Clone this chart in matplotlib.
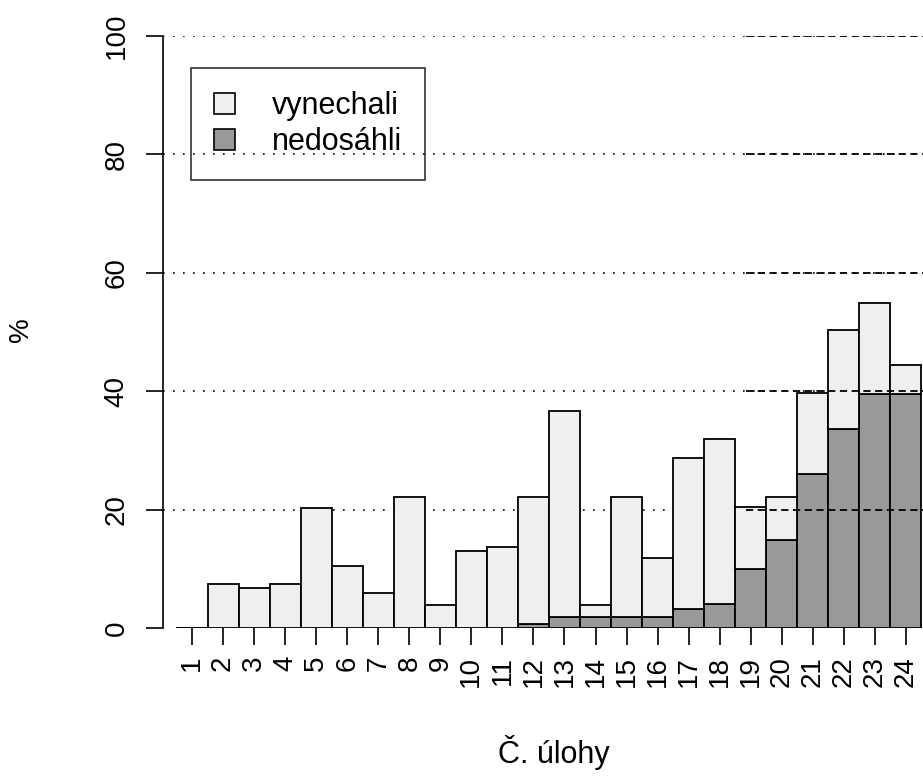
import numpy as np
import matplotlib.pyplot as plt
from matplotlib.patches import Patch

plt.rcParams['font.family'] = ['Liberation Sans', 'DejaVu Sans']

ulohy = list(range(1, 25))
# vyska celeho sloupce v % a tmava cast (nedosahli)
celkem = [0, 7.4, 6.8, 7.4, 20.3, 10.5, 5.9, 22.1, 3.9, 13.0, 13.7, 22.1,
          36.7, 3.9, 22.1, 11.8, 28.7, 32.0, 20.4, 22.1, 39.7, 50.3, 54.9, 44.4]
nedosahli = [0, 0, 0, 0, 0, 0, 0, 0, 0, 0, 0, 0.7,
             1.9, 1.9, 1.9, 1.9, 3.2, 4.0, 9.9, 14.8, 26.0, 33.6, 39.5, 39.5]
vynechali = [c - n for c, n in zip(celkem, nedosahli)]
yticks = [0, 20, 40, 60, 80, 100]

svetla = '#efefef'
tmava = '#999999'

W, H = 923, 781
fig = plt.figure(figsize=(W / 100, H / 100), dpi=100)
ax = fig.add_axes([163 / W, 1 - 628 / H, (W - 163) / W, 592 / H])

# mrizka pod sloupci
for g in yticks[1:]:
    ax.axhline(g, color='black', lw=1.2, ls=(0, (1, 5)), zorder=1)

ax.bar(ulohy, nedosahli, width=1, color=tmava, edgecolor='black', lw=1.3, zorder=2)
ax.bar(ulohy, vynechali, width=1, bottom=nedosahli, color=svetla,
       edgecolor='black', lw=1.3, zorder=2)

# carkovana cast mrizky pres sloupce vpravo
for g in yticks[1:]:
    ax.plot([18.85, 24.6], [g, g], color='black', lw=1.3, ls=(0, (4, 2.5)), zorder=3)

ax.set_xlim(1 - 29 / 31.04, 1 - 29 / 31.04 + (W - 163) / 31.04)
ax.set_ylim(0, 100)
for s in ['top', 'right', 'bottom']:
    ax.spines[s].set_visible(False)
ax.spines['left'].set_linewidth(1.2)
ax.spines['left'].set_bounds(0, 100)

ax.set_xticks(ulohy)
ax.set_xticklabels([str(u) for u in ulohy], rotation=90, fontsize=20)
ax.set_yticks(yticks)
ax.set_yticklabels([str(t) for t in yticks], rotation=90, va='center', fontsize=20)
ax.tick_params(axis='both', length=12, width=1.2, color='black', direction='out')
ax.tick_params(axis='x', pad=8)
ax.tick_params(axis='y', pad=12)

fig.text(21 / W, 1 - 330 / H, '%', rotation=90, ha='center', va='center', fontsize=20)
fig.text(554 / W, 1 - 752 / H, 'Č. úlohy', ha='center', va='center', fontsize=22)

handles = [Patch(facecolor=svetla, edgecolor='black', lw=1.2),
           Patch(facecolor=tmava, edgecolor='black', lw=1.2)]
leg = ax.legend(handles, ['vynechali', 'nedosáhli'], loc='upper left',
                bbox_to_anchor=((191 - 163) / (W - 163), 1 - (68 - 36) / 592),
                fontsize=22, frameon=True, fancybox=False, facecolor='none',
                edgecolor='black', handlelength=0.69, handleheight=0.69,
                handletextpad=1.2, borderpad=0.75, labelspacing=0.2,
                borderaxespad=0)
leg.get_frame().set_linewidth(1.2)
leg.set_zorder(4)

fig.savefig('out.png', dpi=100)
